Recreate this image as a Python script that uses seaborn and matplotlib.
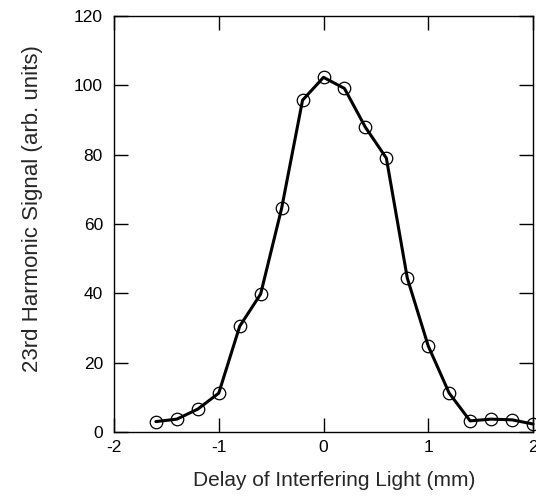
import numpy as np
import pandas as pd
import seaborn as sns
import matplotlib
matplotlib.use("Agg")
import matplotlib.pyplot as plt

# delay (mm) and harmonic signal
delay = [-1.6, -1.4, -1.2, -1.0, -0.8, -0.6, -0.4, -0.2, 0.0, 0.2,
         0.4, 0.6, 0.8, 1.0, 1.2, 1.4, 1.6, 1.8, 2.0]
signal = [3.0, 3.7, 6.6, 11.2, 30.5, 39.8, 64.5, 95.7, 102.3, 99.1,
          87.9, 79.0, 44.4, 24.8, 11.2, 3.2, 3.7, 3.5, 2.3]

x_ticks = [-2, -1, 0, 1, 2]
y_ticks = [0, 20, 40, 60, 80, 100, 120]

df = pd.DataFrame({"delay": delay, "signal": signal})

sns.set_style("ticks")
plt.rcParams["font.family"] = ["Liberation Sans", "DejaVu Sans"]

fig = plt.figure(figsize=(5.36, 5.04), dpi=100)
ax = fig.add_axes([0.2127, 0.1429, 0.7817, 0.8254])

sns.lineplot(data=df, x="delay", y="signal", ax=ax, color="black",
             linewidth=2.2, marker="o", markersize=9, markerfacecolor="none",
             markeredgecolor="black", markeredgewidth=0.9, clip_on=False)

ax.set_xlim(-2, 2)
ax.set_ylim(0, 120)
ax.set_xticks(x_ticks)
ax.set_yticks(y_ticks)
ax.set_xticklabels([str(t) for t in x_ticks])
ax.set_yticklabels([str(t) for t in y_ticks])
ax.tick_params(direction="in", length=10, width=1, top=True, right=True,
               labelsize=12.5, colors="black")
ax.tick_params(axis="y", pad=8)
ax.tick_params(axis="x", pad=6)
for s in ax.spines.values():
    s.set_linewidth(1)
    s.set_color("black")

ax.set_xlabel("Delay of Interfering Light (mm)", fontsize=15, labelpad=11)
ax.set_ylabel("23rd Harmonic Signal (arb. units)", fontsize=16, labelpad=22)
# labels sit a bit off-centre in the original
ax.xaxis.label.set_x(0.526)
ax.yaxis.label.set_y(0.538)

fig.savefig("out.png", dpi=100)
